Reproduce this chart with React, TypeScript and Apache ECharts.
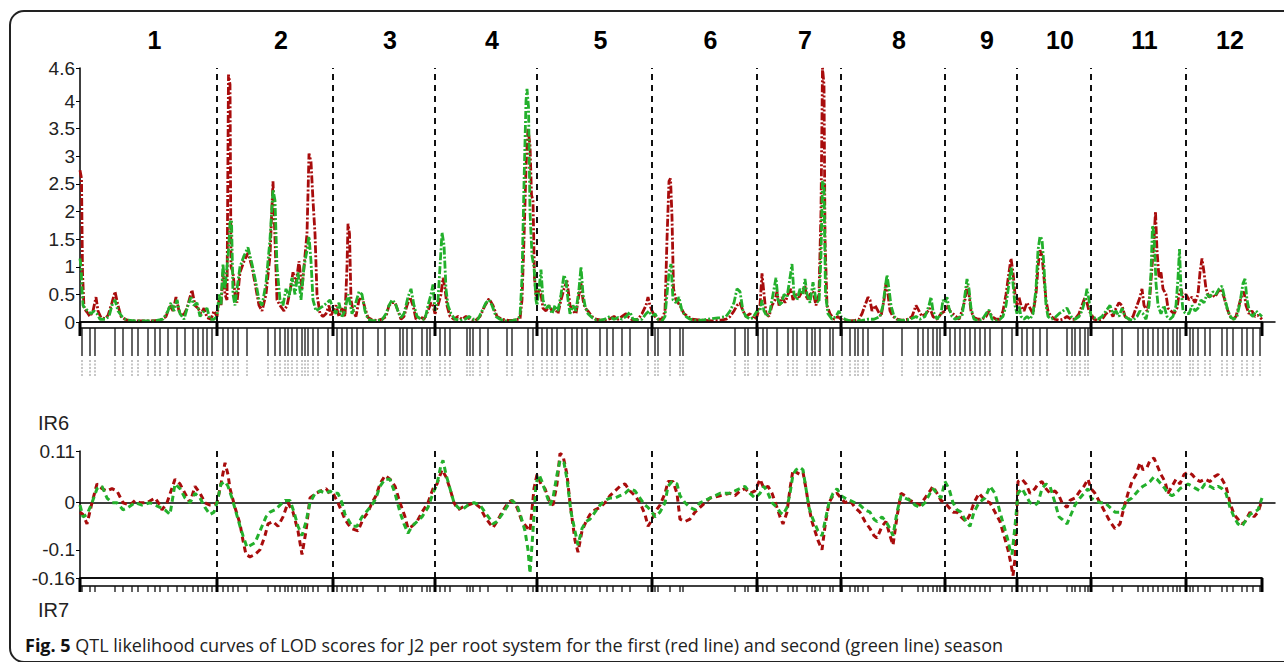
import React, { useEffect, useRef } from "react";
import * as echarts from "echarts";

// ---------- DATA ----------
const chromosomes = ["1", "2", "3", "4", "5", "6", "7", "8", "9", "10", "11", "12"];
// cumulative map positions (cM) of chromosome boundaries
const chromosomeBounds = [0, 137, 253, 355, 457, 572, 677, 761, 865, 937, 1011, 1106, 1182];
const mapMax = 1195;

const markerPositions = [
  2, 10, 15, 35, 43, 52, 58, 68, 75, 80, 88, 97, 105, 113, 118, 123, 127, 132,
  143, 148, 153, 158, 167, 188, 195, 200, 205, 208, 212, 217, 222, 225, 228, 233, 238, 248,
  257, 262, 267, 272, 277, 283, 298, 305, 320, 323, 327, 332, 342, 347, 350,
  360, 365, 370, 387, 390, 393, 400, 408, 427, 432, 448, 453,
  462, 467, 472, 477, 485, 492, 497, 502, 507, 520, 527, 533, 542, 550, 568,
  575, 578, 590, 600, 603, 655, 665, 668,
  678, 683, 687, 697, 708, 713, 717, 727, 732, 735, 740, 750, 753,
  762, 770, 775, 778, 783, 788, 803, 822, 838, 843, 848, 853, 857, 860,
  870, 875, 880, 885, 890, 895, 900, 905, 910, 922, 932,
  942, 947, 953, 960, 967, 987, 992, 995, 1000, 1005, 1008,
  1033, 1042, 1058, 1063, 1068, 1073, 1078, 1083, 1088, 1093, 1097, 1100,
  1110, 1113, 1118, 1125, 1130, 1142, 1147, 1153, 1162, 1167, 1173, 1180,
];

const lodTicks = [0, 0.5, 1, 1.5, 2, 2.5, 3, 3.5, 4, 4.6];
const irTicks = [-0.16, -0.1, 0, 0.11];

// LOD, first season (red)
const lodSeason1 = [
  [0, 2.75], [1.5, 2.6], [2.5, 0.9], [4, 0.25], [7, 0.18], [10, 0.1], [13, 0.2], [16, 0.45], [18, 0.2], [21, 0.08], [25, 0.06], [28, 0.12], [32, 0.35], [35, 0.55], [38, 0.3], [41, 0.1], [45, 0.05], [50, 0.02], [60, 0.02], [70, 0.02], [80, 0.03], [86, 0.1], [90, 0.3], [93, 0.2], [96, 0.45], [99, 0.2], [103, 0.1], [107, 0.25], [110, 0.45], [112, 0.58], [115, 0.3], [118, 0.25], [121, 0.15], [124, 0.25], [127, 0.08], [131, 0.05], [134, 0.2], [137, 0.1],
  [139, 0.4], [141, 0.3], [143, 0.9], [145, 0.5], [147, 0.4], [148.5, 4.48], [150, 4.3], [151, 1.0], [153, 0.9], [155, 0.5], [157, 0.35], [160, 0.9], [164, 1.1], [168, 1.25], [172, 1.0], [176, 0.6], [179, 0.3], [182, 0.2], [186, 0.5], [190, 1.2], [193, 2.55], [195, 1.5], [197, 0.4], [200, 0.3], [204, 0.2], [207, 0.3], [210, 0.55], [213, 0.9], [216, 0.7], [219, 1.1], [222, 0.6], [225, 1.2], [227, 1.6], [229, 3.05], [231, 2.9], [233, 2.2], [235, 1.6], [237, 0.5], [240, 0.15], [243, 0.1], [246, 0.15], [249, 0.3], [251, 0.1], [253, 0.2],
  [256, 0.3], [259, 0.1], [262, 0.25], [265, 0.1], [267, 1.0], [268, 1.78], [269.5, 1.6], [271, 0.4], [273, 0.2], [276, 0.1], [279, 0.4], [282, 0.45], [285, 0.25], [288, 0.08], [292, 0.04], [297, 0.03], [302, 0.05], [306, 0.1], [309, 0.3], [312, 0.35], [315, 0.35], [318, 0.2], [321, 0.05], [324, 0.1], [327, 0.3], [330, 0.45], [333, 0.3], [336, 0.05], [340, 0.1], [344, 0.05], [348, 0.2], [351, 0.35], [353, 0.3], [355, 0.15],
  [358, 0.3], [361, 0.5], [363, 0.8], [365, 0.6], [367, 0.3], [370, 0.1], [374, 0.05], [378, 0.1], [382, 0.05], [386, 0.1], [390, 0.05], [395, 0.02], [400, 0.1], [405, 0.3], [409, 0.42], [413, 0.3], [417, 0.1], [422, 0.05], [428, 0.03], [433, 0.03], [438, 0.05], [440, 0.05], [442, 0.4], [444, 1.5], [446, 2.8], [448, 3.5], [450, 3.2], [451.5, 2.3], [453, 2.2], [454.5, 0.8], [456, 0.5], [457, 0.4],
  [459, 0.6], [461, 0.5], [463, 0.25], [466, 0.2], [469, 0.3], [472, 0.2], [475, 0.25], [478, 0.15], [481, 0.4], [484, 0.6], [487, 0.75], [488, 0.6], [490, 0.3], [493, 0.2], [496, 0.15], [499, 0.5], [501, 0.7], [503, 0.4], [505, 0.25], [508, 0.2], [512, 0.1], [516, 0.05], [520, 0.04], [525, 0.03], [530, 0.06], [534, 0.1], [538, 0.05], [542, 0.1], [546, 0.15], [549, 0.08], [553, 0.03], [558, 0.05], [562, 0.15], [566, 0.3], [568, 0.45], [570, 0.3], [572, 0.2],
  [575, 0.1], [578, 0.05], [582, 0.05], [585, 0.2], [587, 1.5], [589, 2.55], [590.5, 2.6], [592, 1.9], [593.5, 0.6], [596, 0.4], [600, 0.3], [604, 0.15], [608, 0.1], [612, 0.05], [618, 0.04], [625, 0.03], [632, 0.02], [640, 0.03], [646, 0.05], [650, 0.1], [654, 0.2], [657, 0.3], [660, 0.35], [663, 0.2], [666, 0.1], [670, 0.15], [674, 0.05], [677, 0.1],
  [680, 0.3], [682, 0.88], [683.5, 0.6], [686, 0.15], [689, 0.1], [692, 0.3], [695, 0.4], [697, 0.55], [699, 0.3], [702, 0.45], [705, 0.35], [708, 0.5], [711, 0.6], [713, 0.4], [716, 0.5], [719, 0.45], [722, 0.55], [725, 0.65], [727, 0.4], [730, 0.5], [733, 0.55], [736, 0.3], [739, 0.5], [741, 2.0], [742.5, 4.6], [744, 4.3], [745, 1.5], [747, 0.3], [750, 0.15], [754, 0.05], [758, 0.1], [761, 0.05],
  [765, 0.03], [770, 0.02], [775, 0.03], [779, 0.05], [782, 0.15], [785, 0.3], [788, 0.45], [790, 0.4], [792, 0.2], [795, 0.3], [798, 0.2], [801, 0.1], [804, 0.4], [806, 0.7], [808, 0.5], [810, 0.2], [813, 0.1], [817, 0.05], [822, 0.03], [828, 0.05], [832, 0.1], [836, 0.3], [839, 0.2], [842, 0.1], [846, 0.15], [850, 0.25], [853, 0.1], [857, 0.05], [861, 0.15], [865, 0.2],
  [867, 0.3], [870, 0.2], [873, 0.15], [876, 0.1], [879, 0.05], [882, 0.2], [885, 0.4], [887, 0.65], [889, 0.5], [891, 0.2], [894, 0.08], [898, 0.05], [902, 0.05], [906, 0.1], [909, 0.2], [912, 0.1], [916, 0.05], [920, 0.05], [923, 0.2], [926, 0.5], [929, 0.9], [931, 1.15], [933, 0.9], [935, 0.5], [937, 0.3],
  [939, 0.45], [941, 0.3], [944, 0.2], [947, 0.35], [950, 0.25], [953, 0.15], [956, 0.5], [958, 1.0], [960, 1.3], [962, 1.2], [964, 0.8], [966, 0.4], [968, 0.2], [971, 0.1], [975, 0.05], [979, 0.03], [983, 0.05], [987, 0.1], [991, 0.05], [995, 0.05], [999, 0.15], [1002, 0.3], [1005, 0.45], [1007, 0.35], [1009, 0.2], [1011, 0.15],
  [1014, 0.05], [1018, 0.03], [1022, 0.05], [1026, 0.15], [1030, 0.2], [1033, 0.1], [1036, 0.25], [1039, 0.35], [1042, 0.3], [1045, 0.1], [1049, 0.05], [1053, 0.1], [1057, 0.3], [1060, 0.45], [1062, 0.6], [1064, 0.3], [1067, 0.2], [1070, 0.5], [1072, 1.0], [1074, 1.5], [1075.5, 2.0], [1077, 1.3], [1079, 0.8], [1081, 0.9], [1083, 0.6], [1086, 0.5], [1088, 0.25], [1091, 0.2], [1094, 0.15], [1097, 0.25], [1099, 0.5], [1101, 0.6], [1103, 0.45], [1106, 0.5],
  [1109, 0.4], [1112, 0.45], [1115, 0.35], [1118, 0.5], [1120, 0.9], [1122, 1.15], [1124, 0.9], [1126, 0.6], [1129, 0.45], [1132, 0.5], [1135, 0.45], [1138, 0.55], [1141, 0.6], [1144, 0.45], [1147, 0.25], [1150, 0.1], [1153, 0.05], [1156, 0.1], [1159, 0.3], [1162, 0.5], [1164, 0.55], [1166, 0.3], [1169, 0.15], [1172, 0.2], [1175, 0.1], [1178, 0.12], [1182, 0.05],
];

// LOD, second season (green)
const lodSeason2 = [
  [0, 1.15], [1, 1.0], [2, 0.6], [3, 0.3], [5, 0.25], [8, 0.2], [11, 0.15], [14, 0.2], [17, 0.15], [20, 0.05], [25, 0.05], [29, 0.1], [32, 0.3], [35, 0.4], [38, 0.2], [42, 0.1], [46, 0.04], [55, 0.02], [65, 0.02], [75, 0.02], [83, 0.05], [88, 0.2], [91, 0.35], [94, 0.2], [97, 0.4], [100, 0.15], [104, 0.05], [108, 0.3], [111, 0.45], [114, 0.3], [117, 0.35], [120, 0.1], [124, 0.2], [127, 0.25], [130, 0.05], [134, 0.05], [137, 0.1],
  [139, 0.5], [141, 0.3], [143, 1.05], [145, 0.6], [147, 1.0], [148.5, 1.3], [150, 1.8], [151.5, 1.85], [153, 0.5], [155, 0.3], [157, 0.6], [160, 1.0], [164, 1.2], [168, 1.35], [172, 1.05], [176, 0.7], [179, 0.4], [182, 0.3], [186, 0.7], [190, 1.5], [193, 2.4], [195, 2.2], [197, 1.0], [200, 0.4], [203, 0.3], [206, 0.6], [209, 0.45], [212, 0.8], [215, 0.5], [218, 0.9], [221, 0.4], [224, 1.0], [227, 1.3], [229, 1.55], [231, 1.1], [233, 0.4], [236, 0.2], [240, 0.25], [244, 0.3], [247, 0.35], [250, 0.4], [253, 0.25],
  [256, 0.15], [259, 0.35], [262, 0.1], [265, 0.2], [268, 0.5], [270, 0.35], [272, 0.15], [275, 0.3], [279, 0.55], [282, 0.5], [285, 0.2], [288, 0.05], [292, 0.03], [297, 0.02], [302, 0.04], [306, 0.15], [309, 0.3], [312, 0.4], [315, 0.35], [318, 0.2], [321, 0.08], [324, 0.15], [328, 0.45], [331, 0.6], [334, 0.3], [337, 0.1], [341, 0.05], [345, 0.05], [348, 0.3], [351, 0.5], [353, 0.68], [355, 0.2],
  [358, 0.4], [360, 1.0], [362, 1.62], [364, 1.4], [366, 0.6], [368, 0.3], [371, 0.15], [375, 0.05], [380, 0.03], [385, 0.05], [389, 0.1], [393, 0.05], [398, 0.05], [402, 0.2], [406, 0.35], [409, 0.4], [412, 0.3], [416, 0.1], [420, 0.05], [426, 0.02], [432, 0.02], [437, 0.05], [440, 0.1], [442, 0.8], [444, 2.5], [446, 4.0], [447, 4.22], [448.5, 3.9], [450, 2.0], [452, 1.2], [454, 1.0], [456, 0.4], [457, 0.3],
  [459, 0.6], [461, 0.95], [463, 0.4], [466, 0.25], [469, 0.3], [472, 0.15], [475, 0.3], [478, 0.2], [481, 0.5], [484, 0.85], [486, 0.75], [488, 0.4], [490, 0.15], [493, 0.3], [496, 0.2], [499, 0.6], [501, 1.0], [503, 0.5], [505, 0.3], [508, 0.15], [512, 0.08], [516, 0.04], [520, 0.03], [525, 0.05], [530, 0.1], [534, 0.05], [538, 0.08], [542, 0.05], [546, 0.1], [550, 0.18], [553, 0.05], [558, 0.04], [562, 0.05], [566, 0.15], [569, 0.2], [572, 0.1],
  [575, 0.15], [578, 0.05], [582, 0.02], [585, 0.1], [587, 0.5], [589, 0.9], [591, 1.05], [593, 0.4], [596, 0.35], [599, 0.45], [602, 0.2], [606, 0.1], [610, 0.05], [616, 0.03], [624, 0.04], [632, 0.06], [640, 0.08], [646, 0.1], [650, 0.2], [654, 0.35], [657, 0.6], [660, 0.55], [663, 0.2], [666, 0.1], [670, 0.05], [673, 0.08], [677, 0.2],
  [680, 0.2], [682, 0.4], [684, 0.2], [687, 0.1], [690, 0.2], [693, 0.5], [696, 0.8], [698, 0.4], [701, 0.3], [704, 0.5], [707, 0.45], [710, 0.8], [712, 1.05], [714, 0.5], [717, 0.4], [720, 0.6], [723, 0.5], [725, 0.78], [727, 0.5], [730, 0.35], [733, 0.72], [736, 0.4], [739, 0.35], [741, 1.2], [742.5, 2.55], [744, 2.5], [745.5, 0.5], [748, 0.15], [752, 0.05], [756, 0.1], [759, 0.2], [761, 0.1],
  [765, 0.05], [770, 0.02], [776, 0.02], [782, 0.03], [788, 0.05], [794, 0.05], [800, 0.1], [803, 0.3], [805, 0.6], [807, 0.85], [809, 0.6], [811, 0.3], [814, 0.1], [818, 0.04], [824, 0.03], [830, 0.05], [836, 0.1], [840, 0.05], [845, 0.1], [849, 0.3], [851, 0.45], [853, 0.2], [857, 0.05], [861, 0.15], [863, 0.4], [865, 0.35],
  [867, 0.45], [869, 0.25], [872, 0.1], [875, 0.05], [879, 0.08], [882, 0.1], [885, 0.5], [887, 0.78], [889, 0.6], [891, 0.25], [894, 0.05], [898, 0.03], [902, 0.04], [906, 0.15], [909, 0.22], [912, 0.05], [916, 0.03], [920, 0.05], [923, 0.1], [926, 0.3], [929, 0.7], [931, 1.0], [933, 0.7], [935, 0.3], [937, 0.15],
  [939, 0.3], [941, 0.1], [944, 0.05], [947, 0.1], [950, 0.05], [953, 0.15], [956, 0.6], [958, 1.3], [960, 1.55], [962, 1.5], [964, 1.0], [966, 0.3], [968, 0.1], [971, 0.05], [975, 0.08], [979, 0.15], [983, 0.2], [987, 0.25], [991, 0.1], [995, 0.05], [999, 0.1], [1002, 0.2], [1005, 0.4], [1007, 0.6], [1009, 0.4], [1011, 0.1],
  [1014, 0.08], [1018, 0.05], [1022, 0.1], [1026, 0.2], [1030, 0.3], [1033, 0.15], [1036, 0.2], [1039, 0.1], [1042, 0.25], [1045, 0.1], [1049, 0.05], [1053, 0.03], [1057, 0.1], [1060, 0.2], [1063, 0.15], [1066, 0.05], [1069, 0.3], [1071, 0.9], [1072.5, 1.75], [1074, 1.6], [1076, 0.7], [1078, 0.3], [1081, 0.15], [1084, 0.3], [1087, 0.1], [1090, 0.05], [1093, 0.1], [1096, 0.3], [1098, 0.8], [1099.5, 1.32], [1101, 0.6], [1103, 0.2], [1106, 0.15],
  [1109, 0.15], [1112, 0.3], [1115, 0.2], [1118, 0.25], [1121, 0.4], [1124, 0.35], [1127, 0.5], [1130, 0.45], [1133, 0.55], [1136, 0.5], [1139, 0.6], [1142, 0.65], [1145, 0.4], [1148, 0.2], [1151, 0.08], [1154, 0.05], [1157, 0.1], [1160, 0.35], [1163, 0.7], [1165, 0.78], [1167, 0.4], [1170, 0.15], [1173, 0.1], [1176, 0.2], [1179, 0.15], [1182, 0.1],
];

// IR6, first season (red)
const ir6Season1 = [
  [0, -0.02], [3, -0.025], [7, -0.045], [12, 0.0], [17, 0.04], [22, 0.03], [27, 0.025], [32, 0.03], [37, 0.025], [43, 0.0], [50, -0.005], [55, 0.005], [60, 0.0], [67, 0.0], [75, 0.01], [80, -0.005], [82, -0.015], [87, 0.0], [95, 0.05], [100, 0.04], [105, 0.02], [110, 0.0], [115, 0.035], [120, 0.02], [125, 0.0], [130, -0.005], [134, -0.005], [137, 0.0],
  [141, 0.04], [145, 0.085], [148, 0.06], [150, 0.03], [155, -0.01], [160, -0.045], [163, -0.08], [166, -0.11], [170, -0.115], [175, -0.11], [180, -0.1], [185, -0.07], [188, -0.045], [193, -0.04], [198, -0.05], [203, -0.03], [208, 0.0], [213, -0.02], [218, -0.06], [222, -0.11], [226, -0.06], [230, 0.01], [236, 0.02], [241, 0.025], [246, 0.03], [250, 0.02], [253, 0.02],
  [258, 0.0], [262, -0.02], [265, -0.035], [268, -0.045], [272, -0.055], [278, -0.06], [283, -0.035], [288, -0.02], [292, 0.0], [296, 0.015], [300, 0.04], [305, 0.058], [310, 0.05], [315, 0.035], [320, 0.0], [325, -0.03], [328, -0.055], [332, -0.05], [337, -0.04], [342, -0.02], [348, 0.0], [353, 0.03],
  [357, 0.04], [362, 0.07], [366, 0.055], [370, 0.03], [374, 0.0], [378, -0.015], [382, -0.01], [388, -0.005], [394, 0.0], [400, -0.01], [405, -0.03], [410, -0.045], [413, -0.053], [417, -0.04], [422, -0.02], [428, 0.0], [432, 0.005], [437, -0.01], [442, -0.04], [446, -0.05], [450, -0.06], [454, 0.03],
  [457, 0.06], [461, 0.04], [465, 0.03], [470, 0.0], [473, -0.005], [477, 0.04], [480, 0.105], [483, 0.1], [487, 0.06], [490, 0.0], [495, -0.08], [498, -0.105], [502, -0.06], [506, -0.04], [510, -0.025], [515, -0.015], [520, -0.01], [525, 0.0], [530, 0.015], [535, 0.025], [540, 0.035], [545, 0.04], [550, 0.025], [555, 0.015], [560, 0.0], [565, -0.025], [568, -0.05], [571, -0.04],
  [575, -0.02], [580, -0.005], [585, 0.02], [588, 0.045], [593, 0.045], [597, 0.02], [600, -0.035], [605, -0.04], [610, -0.035], [615, -0.02], [620, -0.01], [625, 0.0], [630, 0.01], [640, 0.015], [650, 0.02], [655, 0.015], [660, 0.025], [665, 0.03], [670, 0.02], [675, 0.025],
  [680, 0.05], [684, 0.03], [688, 0.035], [692, 0.02], [697, -0.01], [700, -0.03], [703, -0.045], [707, -0.02], [710, 0.03], [713, 0.07], [716, 0.065], [720, 0.06], [723, 0.065], [726, 0.03], [729, -0.01], [732, -0.04], [735, -0.06], [738, -0.08], [742, -0.1], [745, -0.05], [749, 0.0], [753, 0.015], [757, 0.02], [761, 0.01],
  [765, 0.0], [770, 0.005], [775, -0.01], [780, -0.02], [785, -0.04], [790, -0.055], [794, -0.07], [797, -0.075], [802, -0.05], [806, -0.04], [810, -0.07], [813, -0.09], [817, -0.03], [821, 0.02], [825, 0.015], [830, 0.005], [835, 0.0], [840, -0.005], [845, 0.01], [850, 0.025], [853, 0.035], [857, 0.02], [861, 0.005], [865, 0.0],
  [869, -0.01], [873, -0.02], [877, -0.02], [881, -0.03], [886, -0.04], [890, -0.025], [894, 0.0], [899, 0.02], [905, 0.005], [910, 0.0], [915, -0.02], [920, -0.04], [924, -0.07], [928, -0.1], [931, -0.13], [933, -0.155], [935, -0.12],
  [938, 0.045], [942, 0.05], [946, 0.04], [950, 0.02], [955, 0.03], [958, 0.04], [962, 0.045], [966, 0.03], [970, 0.02], [975, 0.025], [979, 0.015], [982, 0.0], [987, -0.01], [990, 0.005], [995, 0.01], [1000, 0.025], [1004, 0.035], [1008, 0.05], [1011, 0.03],
  [1015, 0.02], [1020, 0.0], [1025, -0.02], [1030, -0.04], [1035, -0.055], [1040, -0.045], [1044, -0.01], [1048, 0.02], [1052, 0.045], [1056, 0.06], [1060, 0.085], [1063, 0.07], [1067, 0.075], [1070, 0.09], [1074, 0.095], [1077, 0.08], [1081, 0.06], [1085, 0.045], [1088, 0.02], [1092, 0.035], [1096, 0.05], [1100, 0.04], [1104, 0.06],
  [1108, 0.065], [1112, 0.06], [1116, 0.05], [1120, 0.045], [1125, 0.05], [1130, 0.045], [1134, 0.055], [1138, 0.06], [1142, 0.05], [1146, 0.035], [1150, 0.0], [1154, -0.025], [1158, -0.035], [1162, -0.045], [1165, -0.04], [1170, -0.02], [1174, -0.03], [1178, -0.02], [1182, 0.005],
];

// IR6, second season (green)
const ir6Season2 = [
  [0, -0.005], [3, -0.03], [7, -0.025], [12, 0.0], [17, 0.03], [22, 0.035], [27, 0.01], [32, 0.0], [37, 0.0], [43, -0.015], [48, -0.01], [55, 0.0], [62, -0.005], [70, 0.0], [75, -0.005], [80, -0.01], [85, -0.015], [90, -0.025], [95, 0.04], [100, 0.03], [105, 0.01], [110, 0.0], [115, 0.02], [120, 0.01], [125, -0.01], [130, -0.025], [134, -0.02], [137, 0.0],
  [141, 0.04], [145, 0.045], [148, 0.035], [152, 0.01], [156, -0.02], [160, -0.05], [163, -0.07], [167, -0.095], [171, -0.09], [175, -0.085], [178, -0.07], [182, -0.05], [186, -0.03], [190, -0.02], [195, -0.015], [200, -0.005], [205, 0.005], [210, 0.005], [214, -0.02], [218, -0.05], [222, -0.07], [226, -0.04], [230, 0.0], [235, 0.02], [240, 0.025], [246, 0.02], [250, 0.025], [253, 0.02],
  [258, 0.02], [262, 0.0], [265, -0.025], [268, -0.035], [272, -0.05], [277, -0.05], [282, -0.03], [288, -0.015], [292, -0.005], [296, 0.01], [300, 0.035], [305, 0.05], [310, 0.05], [315, 0.02], [320, -0.02], [324, -0.045], [328, -0.065], [332, -0.05], [337, -0.04], [342, -0.03], [348, -0.01], [353, 0.02],
  [357, 0.04], [361, 0.08], [363, 0.09], [366, 0.06], [370, 0.03], [374, 0.0], [378, -0.01], [382, -0.015], [388, -0.005], [394, 0.0], [400, -0.005], [405, -0.02], [410, -0.035], [413, -0.045], [417, -0.04], [422, -0.025], [428, -0.005], [432, 0.005], [437, -0.005], [441, -0.03], [445, -0.06], [448, -0.1], [450, -0.15], [453, -0.06],
  [456, 0.04], [459, 0.06], [462, 0.045], [466, 0.02], [470, -0.005], [473, 0.01], [477, 0.06], [480, 0.09], [484, 0.085], [487, 0.05], [491, -0.02], [495, -0.06], [498, -0.09], [502, -0.055], [506, -0.04], [510, -0.035], [515, -0.02], [520, -0.005], [525, 0.005], [530, 0.01], [535, 0.01], [540, 0.015], [545, 0.02], [550, 0.03], [555, 0.025], [560, 0.01], [565, -0.005], [568, -0.01], [572, -0.02],
  [575, -0.03], [580, -0.02], [585, 0.0], [588, 0.035], [592, 0.045], [597, 0.04], [600, 0.015], [605, 0.0], [610, -0.01], [615, -0.015], [620, 0.0], [625, 0.005], [630, 0.01], [640, 0.02], [650, 0.02], [655, 0.025], [660, 0.03], [665, 0.035], [670, 0.02], [675, 0.01],
  [680, 0.02], [684, 0.035], [688, 0.02], [692, 0.0], [697, -0.01], [700, -0.02], [703, -0.025], [707, -0.01], [710, 0.02], [713, 0.06], [716, 0.07], [720, 0.075], [723, 0.07], [726, 0.03], [729, -0.01], [732, -0.03], [735, -0.045], [738, -0.06], [742, -0.07], [745, -0.04], [749, 0.0], [753, 0.02], [757, 0.03], [761, 0.015],
  [765, 0.01], [770, 0.005], [775, 0.0], [780, -0.005], [785, -0.015], [790, -0.02], [794, -0.035], [797, -0.04], [802, -0.03], [806, -0.04], [810, -0.055], [813, -0.07], [817, -0.02], [821, 0.015], [825, 0.01], [830, 0.005], [835, -0.005], [840, -0.01], [845, 0.0], [850, 0.02], [853, 0.03], [857, 0.02], [861, 0.01], [865, 0.045],
  [869, 0.03], [873, 0.0], [877, -0.015], [881, -0.02], [886, -0.04], [890, -0.05], [894, -0.02], [899, 0.0], [905, 0.01], [910, 0.035], [915, 0.02], [920, -0.02], [924, -0.05], [928, -0.08], [930, -0.1], [932, -0.11], [935, -0.05],
  [938, 0.02], [942, 0.03], [946, 0.015], [950, 0.0], [955, -0.005], [958, 0.0], [962, 0.03], [966, 0.04], [970, 0.035], [975, 0.0], [979, -0.03], [982, -0.035], [987, -0.045], [990, -0.03], [995, -0.005], [1000, 0.01], [1004, 0.02], [1008, 0.03], [1011, 0.01],
  [1015, 0.005], [1020, 0.0], [1025, 0.0], [1030, -0.01], [1035, -0.02], [1040, -0.02], [1044, -0.01], [1048, 0.005], [1052, 0.01], [1056, 0.02], [1060, 0.03], [1063, 0.035], [1067, 0.04], [1070, 0.045], [1074, 0.055], [1077, 0.05], [1081, 0.04], [1085, 0.03], [1088, 0.02], [1092, 0.015], [1096, 0.02], [1100, 0.03], [1104, 0.035],
  [1108, 0.04], [1112, 0.035], [1116, 0.03], [1120, 0.025], [1125, 0.04], [1130, 0.035], [1134, 0.03], [1138, 0.035], [1142, 0.03], [1146, 0.02], [1150, -0.01], [1154, -0.03], [1158, -0.045], [1162, -0.05], [1165, -0.04], [1170, -0.025], [1174, -0.02], [1178, -0.015], [1182, 0.01],
];

const captionBold = "Fig. 5";
const captionText =
  " QTL likelihood curves of LOD scores for J2 per root system for the first (red line) and second (green line) season";

// ---------- STYLE ----------
const RED = "#a80c0c";
const GREEN = "#23b02c";
const FONT = '"Liberation Sans", Arial, Helvetica, sans-serif';
const CAPTION_FONT = '"Open Sans", "Noto Sans", sans-serif';

export default function App() {
  const ref = useRef<HTMLDivElement>(null);

  useEffect(() => {
    if (!ref.current) return;
    const chart = echarts.init(ref.current, undefined, { renderer: "svg" });
    const lastBound = chromosomeBounds[chromosomeBounds.length - 1];
    const innerBounds = chromosomeBounds.slice(1, -1);

    const boundaryLines = {
      silent: true,
      symbol: ["none", "none"],
      label: { show: false },
      lineStyle: { color: "#111", width: 2, type: [6, 5] },
      data: innerBounds.map((b) => ({ xAxis: b })),
    };

    const stripRender = (boxH: number, markTop: number, markBottom: number, boundBottom: number, withTopLine: boolean, labels: boolean) =>
      (params: any, api: any) => {
        const kind = api.value(2);
        const p = api.coord([api.value(0), api.value(1)]);
        const children: any[] = [];
        if (kind === 1) {
          children.push({
            type: "line",
            shape: { x1: p[0], y1: p[1], x2: p[0], y2: p[1] + boundBottom },
            style: { stroke: "#000", lineWidth: 3 },
          });
          if (params.dataIndex === 0) {
            const end = api.coord([lastBound, api.value(1)]);
            children.push({
              type: "rect",
              shape: { x: p[0], y: p[1], width: end[0] - p[0], height: boxH },
              style: { fill: "none", stroke: "#000", lineWidth: 1.5 },
            });
            if (withTopLine) {
              children.push({
                type: "line",
                shape: { x1: p[0], y1: p[1], x2: end[0], y2: p[1] },
                style: { stroke: "#000", lineWidth: 1.5 },
              });
            }
          }
        } else {
          children.push({
            type: "line",
            shape: { x1: p[0], y1: p[1] + markTop, x2: p[0], y2: p[1] + markBottom },
            style: { stroke: "#111", lineWidth: 1.3 },
          });
          if (labels) {
            children.push({
              type: "line",
              shape: { x1: p[0], y1: p[1] + markBottom + 4, x2: p[0], y2: p[1] + markBottom + 20 },
              style: { stroke: "#b8b8b8", lineWidth: 1.6, lineDash: [2, 1.5] },
            });
          }
        }
        return { type: "group", children };
      };

    const topStrip = [
      ...chromosomeBounds.map((b) => [b, 0, 1]),
      ...markerPositions.map((m) => [m, 0, 0]),
    ];
    const bottomStrip = [
      ...chromosomeBounds.map((b) => [b, -0.16, 1]),
      ...markerPositions.map((m) => [m, -0.16, 0]),
    ];

    const chromLabelData = chromosomes.map((c, i) => [
      (chromosomeBounds[i] + chromosomeBounds[i + 1]) / 2,
      4.6,
    ]);

    const axisText = { color: "#222", fontSize: 19, fontFamily: FONT };

    chart.setOption({
      animation: false,
      backgroundColor: "#fff",
      grid: [
        { left: 80, top: 68, width: 1195, height: 254 },
        { left: 80, top: 451, width: 1195, height: 127 },
      ],
      xAxis: [
        {
          gridIndex: 0, type: "value", min: 0, max: mapMax,
          axisLine: { show: true, lineStyle: { color: "#000", width: 1.5 } },
          axisTick: { show: false }, axisLabel: { show: false }, splitLine: { show: false },
        },
        {
          gridIndex: 1, type: "value", min: 0, max: mapMax,
          axisLine: { show: true, onZero: true, lineStyle: { color: "#000", width: 1.5 } },
          axisTick: { show: false }, axisLabel: { show: false }, splitLine: { show: false },
        },
      ],
      yAxis: [
        {
          gridIndex: 0, type: "value", min: 0, max: 4.6,
          axisLine: { show: true, lineStyle: { color: "#000", width: 1.5 } },
          axisTick: { show: true, length: 4, customValues: lodTicks, lineStyle: { color: "#000" } },
          axisLabel: { customValues: lodTicks, margin: 5, ...axisText },
          splitLine: { show: false },
        },
        {
          gridIndex: 1, type: "value", min: -0.16, max: 0.11,
          axisLine: { show: true, onZero: false, lineStyle: { color: "#000", width: 1.5 } },
          axisTick: { show: true, length: 4, customValues: irTicks, lineStyle: { color: "#000" } },
          axisLabel: { customValues: irTicks, margin: 5, ...axisText },
          splitLine: { show: false },
        },
      ],
      series: [
        {
          name: "LOD first season", type: "line", xAxisIndex: 0, yAxisIndex: 0,
          data: lodSeason1, showSymbol: false, clip: false,
          lineStyle: { color: RED, width: 2.8, type: [8, 2, 2, 2] },
          markLine: boundaryLines, z: 3,
        },
        {
          name: "LOD second season", type: "line", xAxisIndex: 0, yAxisIndex: 0,
          data: lodSeason2, showSymbol: false, clip: false,
          lineStyle: { color: GREEN, width: 2.8, type: [8, 2, 2, 2] }, z: 4,
        },
        {
          name: "IR6 first season", type: "line", xAxisIndex: 1, yAxisIndex: 1,
          data: ir6Season1, showSymbol: false, clip: false,
          lineStyle: { color: RED, width: 3, type: [6, 4] },
          markLine: boundaryLines, z: 3,
        },
        {
          name: "IR6 second season", type: "line", xAxisIndex: 1, yAxisIndex: 1,
          data: ir6Season2, showSymbol: false, clip: false,
          lineStyle: { color: GREEN, width: 3, type: [6, 4] }, z: 4,
        },
        {
          name: "markers top", type: "custom", xAxisIndex: 0, yAxisIndex: 0,
          data: topStrip, clip: false, silent: true, z: 5,
          renderItem: stripRender(6, 6, 34, 14, false, true),
        },
        {
          name: "markers bottom", type: "custom", xAxisIndex: 1, yAxisIndex: 1,
          data: bottomStrip, clip: false, silent: true, z: 5,
          renderItem: stripRender(8, 8, 14, 14, true, false),
        },
        {
          name: "chromosomes", type: "custom", xAxisIndex: 0, yAxisIndex: 0,
          data: chromLabelData, clip: false, silent: true,
          renderItem: (params: any, api: any) => {
            const p = api.coord([api.value(0), api.value(1)]);
            return {
              type: "text",
              x: p[0] + 6,
              y: p[1] - 28,
              style: {
                text: chromosomes[params.dataIndex],
                fontSize: 25, fontWeight: "bold", fontFamily: FONT,
                fill: "#000", align: "center", verticalAlign: "middle",
              },
            };
          },
        },
      ],
      graphic: [
        {
          type: "rect", silent: true,
          shape: { x: 10, y: 11, width: 1300, height: 651, r: 14 },
          style: { fill: "none", stroke: "#222", lineWidth: 2 },
        },
        {
          type: "text", x: 38, y: 423,
          style: { text: "IR6", fontSize: 20, fontFamily: FONT, fill: "#222", verticalAlign: "middle" },
        },
        {
          type: "text", x: 38, y: 610,
          style: { text: "IR7", fontSize: 20, fontFamily: FONT, fill: "#222", verticalAlign: "middle" },
        },
        {
          type: "text", x: 25, y: 645,
          style: {
            text: "{b|" + captionBold + "}" + captionText,
            fontSize: 18, fontFamily: CAPTION_FONT, fill: "#222",
            verticalAlign: "middle",
            rich: { b: { fontWeight: "bold", fontSize: 18, fontFamily: CAPTION_FONT, fill: "#111" } },
          },
        },
      ],
    });
    return () => chart.dispose();
  }, []);

  return (
    <div
      ref={ref}
      style={{ position: "absolute", left: 0, top: 0, width: 1284, height: 662, background: "#fff" }}
    />
  );
}
